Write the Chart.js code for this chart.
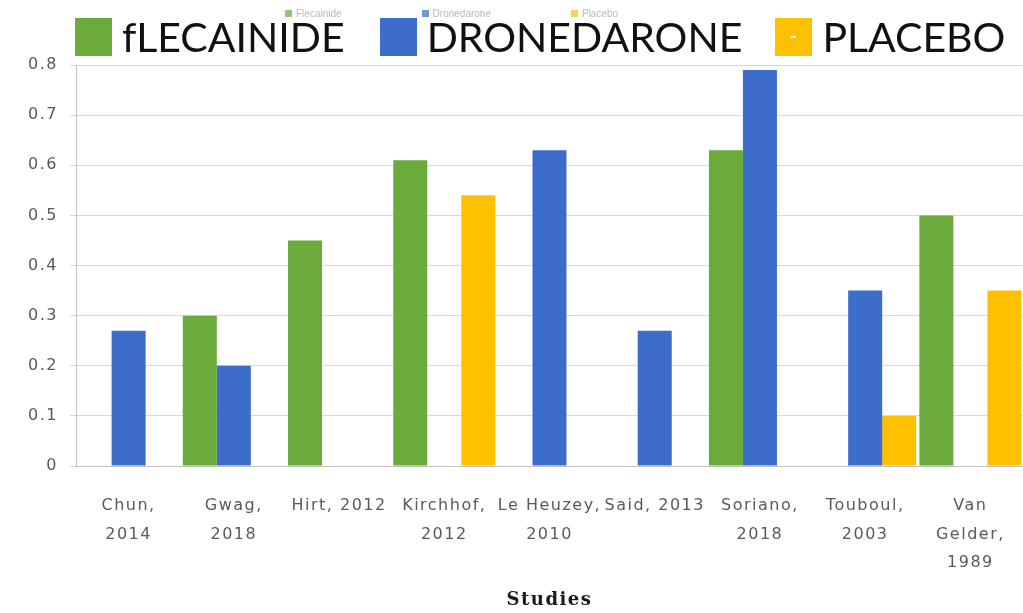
<!DOCTYPE html>
<html>
<head>
<meta charset="utf-8">
<script src="https://cdn.jsdelivr.net/npm/chart.js@4/dist/chart.umd.min.js"></script>
<style>
  html, body { margin: 0; padding: 0; background: #fff; }
  #wrap { position: relative; width: 1023px; height: 613px; }
  #chart { position: absolute; left: 0; top: 0; }
  /* leyenda pequeña original, casi tapada por la grande */
  #legendSmall { position: absolute; left: 285px; top: 8px; display: flex; gap: 80px;
    font: 10px "Liberation Sans", sans-serif; color: #9a9a9a; opacity: 0.7; }
  #legendSmall span::before { content: ""; display: inline-block; width: 7px; height: 7px;
    margin-right: 4px; background: var(--c); }
  #legend { position: absolute; left: 75px; top: 12px; display: flex; align-items: center;
    font: 41px Lato, sans-serif; color: #111; }
  #legend .item { display: flex; align-items: center; }
  #legend .item:nth-child(1) { margin-right: 35px; }
  #legend .item:nth-child(2) { margin-right: 33px; }
  #legend .box { width: 37px; height: 38px; margin-right: 10px; position: relative; }
  #legend .box.dash::after { content: ""; position: absolute; left: 16px; top: 18px;
    width: 5px; height: 2px; background: #fff; }
</style>
</head>
<body>
<div id="wrap">
  <canvas id="chart" width="1023" height="613"></canvas>
  <div id="legendSmall"></div>
  <div id="legend"></div>
</div>
<script>
// Estudios (eje X) y valores por fármaco
const STUDIES = [
  ['Chun,', '2014'], ['Gwag,', '2018'], 'Hirt, 2012', ['Kirchhof,', '2012'],
  ['Le Heuzey,', '2010'], 'Said, 2013', ['Soriano,', '2018'], ['Touboul,', '2003'],
  ['Van', 'Gelder,', '1989']
];
const FLECAINIDE  = [null, 0.30, 0.45, 0.61, null, null, 0.63, null, 0.50];
const DRONEDARONE = [0.27, 0.20, null, null, 0.63, 0.27, 0.79, 0.35, null];
const PLACEBO     = [null, null, null, 0.54, null, null, null, 0.10, 0.35];

const LEGEND_BIG   = ['fLECAINIDE', 'DRONEDARONE', 'PLACEBO'];
const LEGEND_SMALL = ['Flecainide', 'Dronedarone', 'Placebo'];
const COLORS = ['#6aab3c', '#3d6dca', '#ffc000'];

// Leyendas en HTML
const legend = document.getElementById('legend');
LEGEND_BIG.forEach((txt, i) => {
  const item = document.createElement('div');
  item.className = 'item';
  item.innerHTML = `<span class="box${i === 2 ? ' dash' : ''}" style="background:${COLORS[i]}"></span><span>${txt}</span>`;
  legend.appendChild(item);
});
const legendSmall = document.getElementById('legendSmall');
LEGEND_SMALL.forEach((txt, i) => {
  const s = document.createElement('span');
  s.style.setProperty('--c', COLORS[i]);
  s.textContent = txt;
  legendSmall.appendChild(s);
});

const GRAY = '#5a5a5a';

// Texto del canvas un poco espaciado (ejes y título)
const letterSpacing = {
  id: 'letterSpacing',
  beforeLayout: (chart) => { chart.ctx.letterSpacing = '1.5px'; },
  beforeDraw: (chart) => { chart.ctx.letterSpacing = '1.5px'; }
};

new Chart(document.getElementById('chart'), {
  type: 'bar',
  data: {
    labels: STUDIES,
    datasets: [
      { label: 'Flecainide', data: FLECAINIDE, backgroundColor: COLORS[0] },
      { label: 'Dronedarone', data: DRONEDARONE, backgroundColor: COLORS[1] },
      { label: 'Placebo', data: PLACEBO, backgroundColor: COLORS[2] }
    ]
  },
  plugins: [letterSpacing],
  options: {
    responsive: false,
    animation: false,
    categoryPercentage: 0.97,
    barPercentage: 1,
    layout: { padding: { top: 65, right: 0, bottom: 2, left: 0 } },
    plugins: { legend: { display: false }, tooltip: { enabled: false } },
    scales: {
      x: {
        grid: { display: false },
        border: { color: '#bfbfbf' },
        ticks: {
          autoSkip: false, maxRotation: 0, minRotation: 0, padding: 18,
          color: GRAY, font: { family: 'DejaVu Sans', size: 16, lineHeight: 1.78 }
        },
        title: {
          display: true, text: 'Studies', color: '#1a1a1a',
          font: { family: 'DejaVu Serif', size: 18, weight: 'bold' },
          padding: { top: 0, bottom: 0 }
        },
        // el área del gráfico llega hasta el borde derecho
        afterFit: (scale) => { scale.height = 145; scale.paddingLeft = 0; scale.paddingRight = 0; }
      },
      y: {
        min: 0, max: 0.8,
        grid: { color: '#d9d9d9', tickLength: 6, tickColor: '#d9d9d9' },
        border: { color: '#bfbfbf' },
        ticks: {
          stepSize: 0.1, padding: 12, color: GRAY,
          font: { family: 'DejaVu Sans', size: 16 },
          callback: (v) => +v.toFixed(1)
        },
        afterFit: (scale) => { scale.width = 76; }
      }
    }
  }
});
</script>
</body>
</html>
